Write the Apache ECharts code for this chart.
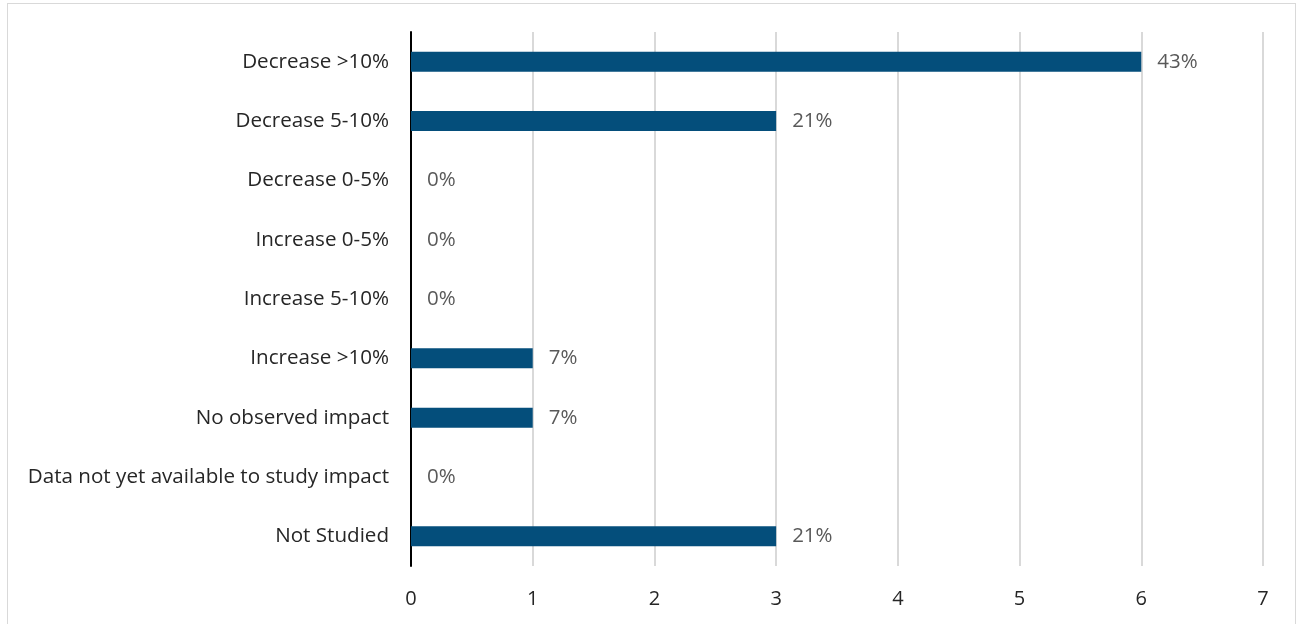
<!DOCTYPE html>
<html>
<head>
  <meta charset="utf-8" />
  <script src="https://cdn.jsdelivr.net/npm/echarts@6/dist/echarts.min.js"></script>
  <style>
    html, body { margin: 0; padding: 0; background: #fff; }
    #frame {
      position: absolute; left: 7px; top: 3px; width: 1289px; height: 640px;
      border: 1px solid #d9d9d9; box-sizing: border-box;
    }
    #chart { position: absolute; left: 0; top: 0; width: 1299px; height: 624px; }
  </style>
</head>
<body>
  <div id="frame"></div>
  <div id="chart"></div>
  <script>
    // 类别（从上到下）
    const categories = [
      "Decrease >10%",
      "Decrease 5-10%",
      "Decrease 0-5%",
      "Increase 0-5%",
      "Increase 5-10%",
      "Increase >10%",
      "No observed impact",
      "Data not yet available to study impact",
      "Not Studied"
    ]
    const counts = [6, 3, 0, 0, 0, 1, 1, 0, 3]
    const percentLabels = ["43%", "21%", "0%", "0%", "0%", "7%", "7%", "0%", "21%"]
    const xTicks = [0, 1, 2, 3, 4, 5, 6, 7]

    const font = "'Open Sans', 'Noto Sans', sans-serif"
    const chart = echarts.init(document.getElementById("chart"))
    chart.setOption({
      animation: false,
      grid: { left: 411, right: 36, top: 32, bottom: 58 },
      xAxis: {
        type: "value",
        min: xTicks[0],
        max: xTicks[xTicks.length - 1],
        interval: 1,
        axisLine: { show: false },
        axisTick: { show: false },
        splitLine: { lineStyle: { color: "#d9d9d9", width: 2 } },
        axisLabel: { color: "#262626", fontSize: 20, fontFamily: font, margin: 23 }
      },
      yAxis: {
        type: "category",
        inverse: true,
        data: categories,
        axisLine: { lineStyle: { color: "#000", width: 2 } },
        axisTick: { show: false },
        axisLabel: { color: "#262626", fontSize: 20.6, fontFamily: font, margin: 22, padding: [3, 0, 0, 0] }
      },
      series: [
        {
          type: "bar",
          data: counts,
          barWidth: 20,
          itemStyle: { color: "#044e7b" },
          label: {
            show: true,
            position: "right",
            distance: 16,
            color: "#595959",
            fontSize: 20.5,
            fontFamily: font,
            padding: [3, 0, 0, 0],
            formatter: (p) => percentLabels[p.dataIndex]
          }
        }
      ]
    })
  </script>
</body>
</html>
